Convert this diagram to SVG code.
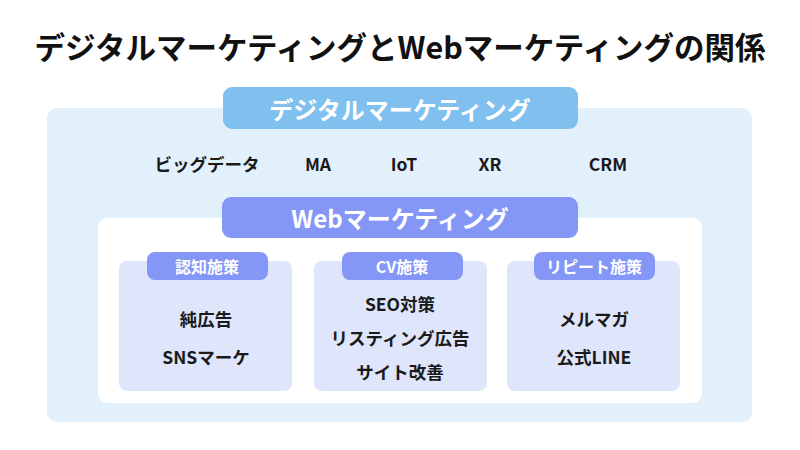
<svg xmlns="http://www.w3.org/2000/svg" width="800" height="450" viewBox="0 0 800 450">
<style>
text{font-family:"Noto Sans CJK JP","Noto Sans",sans-serif;font-weight:700;text-anchor:middle;dominant-baseline:central}
.title{font-size:30.5px;fill:#111}
.head{font-size:24px;fill:#fff}
.item{font-size:17.5px;fill:#1a1a1a}
.tab{font-size:16px;fill:#fff}
.dm{fill:#7fc0ee}
.wm{fill:#8597f6}
.sub{fill:#dfe5fa}
</style>
<rect width="800" height="450" fill="#fff"/>
<text class="title" x="400" y="46">デジタルマーケティングとWebマーケティングの関係</text>
<g id="digital">
<rect x="47" y="108" width="705" height="314" rx="10" fill="#e2f0fb"/>
<rect class="dm" x="223" y="87" width="355" height="42" rx="9"/>
<text class="head" x="400" y="108">デジタルマーケティング</text>
<text class="item" x="207" y="163">ビッグデータ</text>
<text class="item" x="318" y="163">MA</text>
<text class="item" x="404" y="163">IoT</text>
<text class="item" x="490" y="163">XR</text>
<text class="item" x="608" y="163">CRM</text>
</g>
<g id="web">
<rect x="98" y="218" width="604" height="185" rx="9" fill="#fff"/>
<rect class="wm" x="222" y="197" width="356" height="41" rx="9"/>
<text class="head" x="400" y="217">Webマーケティング</text>
</g>
<g id="awareness">
<rect class="sub" x="119" y="261" width="173" height="130" rx="8"/>
<rect class="wm" x="147" y="252" width="121" height="28" rx="8"/>
<text class="tab" x="207" y="266">認知施策</text>
<text class="item" x="206" y="318">純広告</text>
<text class="item" x="206" y="356">SNSマーケ</text>
</g>
<g id="cv">
<rect class="sub" x="314" y="261" width="173" height="130" rx="8"/>
<rect class="wm" x="342" y="252" width="121" height="28" rx="8"/>
<text class="tab" x="402" y="266">CV施策</text>
<text class="item" x="400" y="303">SEO対策</text>
<text class="item" x="400" y="337">リスティング広告</text>
<text class="item" x="400" y="371">サイト改善</text>
</g>
<g id="repeat">
<rect class="sub" x="507" y="261" width="173" height="130" rx="8"/>
<rect class="wm" x="534" y="252" width="121" height="28" rx="8"/>
<text class="tab" x="594" y="266">リピート施策</text>
<text class="item" x="594" y="318">メルマガ</text>
<text class="item" x="594" y="356">公式LINE</text>
</g>
<g id="connectors"/>
</svg>
